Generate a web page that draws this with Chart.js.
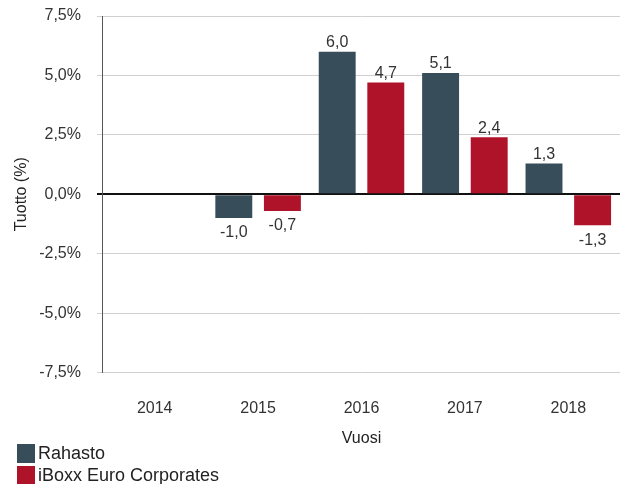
<!DOCTYPE html>
<html>
<head>
<meta charset="utf-8">
<script src="https://cdn.jsdelivr.net/npm/chart.js@4"></script>
<style>
	body { margin: 0; background: #fff; font-family: "Liberation Sans", Arial, sans-serif; }
	#wrap { position: relative; width: 621px; height: 448px; }
	#legend { position: absolute; left: 17px; top: 443px; font-size: 18px; color: #222; }
	#legend div { display: flex; align-items: center; height: 21px; margin-bottom: 1px; }
	#legend span.box { width: 18px; height: 19px; margin-right: 3px; display: inline-block; }
</style>
</head>
<body>
<div id="wrap"><canvas id="bar-chart"></canvas></div>
<div id="legend"></div>
<script>
const years = ["2014", "2015", "2016", "2017", "2018"];
const rahasto = [null, -1.0, 6.0, 5.1, 1.3];
const iboxx = [null, -0.7, 4.7, 2.4, -1.3];
const seriesNames = ["Rahasto", "iBoxx Euro Corporates"];
const seriesColors = ["#374e5a", "#ae1329"];

const fmt = v => v.toFixed(1).replace('.', ',');

// labels above / below each bar
const valueLabels = {
	id: 'valueLabels',
	afterDatasetsDraw(chart) {
		const ctx = chart.ctx;
		ctx.save();
		ctx.font = '16px "Liberation Sans", Arial, sans-serif';
		ctx.fillStyle = '#333';
		ctx.textAlign = 'center';
		chart.data.datasets.forEach((ds, i) => {
			chart.getDatasetMeta(i).data.forEach((bar, j) => {
				const v = ds.data[j];
				if (v === null) return;
				if (v >= 0) {
					ctx.textBaseline = 'bottom';
					ctx.fillText(fmt(v), bar.x, bar.y - 1);
				} else {
					ctx.textBaseline = 'top';
					ctx.fillText(fmt(v), bar.x, bar.y + 7);
				}
			});
		});
		ctx.restore();
	}
};

new Chart(document.getElementById("bar-chart"), {
	type: 'bar',
	data: {
		labels: years,
		datasets: [{
			label: seriesNames[0],
			data: rahasto,
			backgroundColor: seriesColors[0]
		}, {
			label: seriesNames[1],
			data: iboxx,
			backgroundColor: seriesColors[1]
		}]
	},
	options: {
		responsive: true,
		maintainAspectRatio: false,
		animation: false,
		categoryPercentage: 0.94,
		barPercentage: 0.76,
		layout: { padding: { top: 0, right: 1, left: 8 } },
		plugins: {
			legend: { display: false },
			tooltip: { enabled: false }
		},
		scales: {
			x: {
				grid: { display: false },
				border: { display: false },
				ticks: { color: '#333', font: { size: 16 }, padding: 18 },
				title: { display: true, text: 'Vuosi', color: '#222', font: { size: 16 }, padding: { top: -7, bottom: 0 } }
			},
			y: {
				min: -7.5,
				max: 7.5,
				// tick padding also pads the top, keep only the label half-height there
				afterFit: s => { s.paddingTop = 16; },
				ticks: {
					stepSize: 2.5,
					color: '#333',
					font: { size: 16 },
					padding: 16,
					callback: v => fmt(v) + '%'
				},
				grid: {
					color: c => c.tick && c.tick.value === 0 ? '#111' : '#d0d0d0',
					lineWidth: c => c.tick && c.tick.value === 0 ? 2 : 1,
					tickLength: 6
				},
				border: { color: '#555', width: 1 },
				title: { display: true, text: 'Tuotto (%)', color: '#222', font: { size: 16 }, padding: { top: 4, bottom: -8 } }
			}
		}
	},
	plugins: [valueLabels]
});

const legend = document.getElementById("legend");
seriesNames.forEach((name, i) => {
	const row = document.createElement("div");
	row.innerHTML = '<span class="box" style="background:' + seriesColors[i] + '"></span>' + name;
	legend.appendChild(row);
});
</script>
</body>
</html>
